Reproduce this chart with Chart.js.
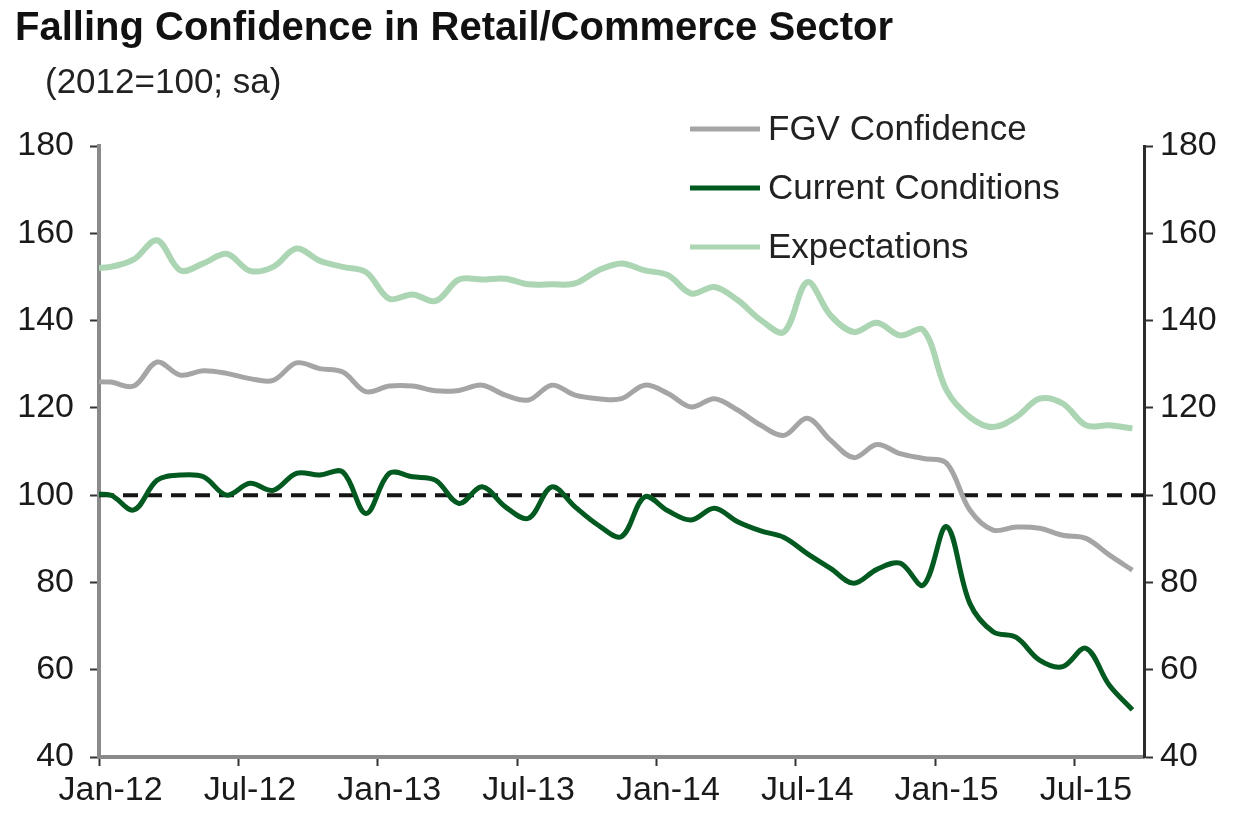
<!DOCTYPE html>
<html>
<head>
<meta charset="utf-8">
<title>Falling Confidence in Retail/Commerce Sector</title>
<script src="https://cdn.jsdelivr.net/npm/chart.js@4.4.1/dist/chart.umd.min.js"></script>
<style>
  html, body { margin: 0; padding: 0; background: #fff; }
  #wrap { position: relative; width: 1237px; height: 813px; overflow: hidden; }
  #chart { position: absolute; left: 0; top: 0; }
  .title { position: absolute; left: 15px; top: 4px; font: bold 40px "Liberation Sans", Arial, sans-serif; color: #111; white-space: nowrap; }
  .subtitle { position: absolute; left: 45px; top: 61px; font: 35px "Liberation Sans", Arial, sans-serif; color: #222; white-space: nowrap; }
</style>
</head>
<body>
<div id="wrap">
  <canvas id="chart" width="1237" height="813"></canvas>
  <div class="title">Falling Confidence in Retail/Commerce Sector</div>
  <div class="subtitle">(2012=100; sa)</div>
</div>
<script>
// --- Data (monthly, Dec-11 .. Sep-15; Dec-11 only feeds the line into the left axis) ---
const months = [
  'Dec-11',
  'Jan-12','Feb-12','Mar-12','Apr-12','May-12','Jun-12','Jul-12','Aug-12','Sep-12','Oct-12','Nov-12','Dec-12',
  'Jan-13','Feb-13','Mar-13','Apr-13','May-13','Jun-13','Jul-13','Aug-13','Sep-13','Oct-13','Nov-13','Dec-13',
  'Jan-14','Feb-14','Mar-14','Apr-14','May-14','Jun-14','Jul-14','Aug-14','Sep-14','Oct-14','Nov-14','Dec-14',
  'Jan-15','Feb-15','Mar-15','Apr-15','May-15','Jun-15','Jul-15','Aug-15','Sep-15'
];

const fgvConfidence = [
  126,
  125.9, 125.0, 130.5, 127.5, 128.5, 127.9, 126.7, 126.3, 130.3, 129.0, 128.2, 123.7,
  125.0, 125.0, 123.9, 124.0, 125.2, 122.9, 121.8, 125.2, 122.9, 122.1, 122.1, 125.2,
  123.3, 120.2, 122.1, 119.5, 116.0, 113.7, 117.6, 112.6, 108.6, 111.6, 109.5, 108.4,
  107.3, 96.6, 92.0, 92.7, 92.4, 90.8, 90.1, 86.3, 82.8
];

const currentConditions = [
  100,
  100.0, 96.6, 103.4, 104.6, 104.2, 100.0, 102.7, 101.1, 105.0, 104.6, 105.3, 95.8,
  105.0, 104.2, 103.4, 98.1, 101.9, 97.3, 94.7, 101.9, 97.3, 93.1, 90.5, 99.6,
  96.4, 94.3, 97.0, 93.9, 91.8, 90.3, 86.6, 83.2, 79.8, 83.0, 84.4, 79.4,
  92.8, 75.2, 68.7, 67.4, 62.2, 60.7, 64.9, 56.5, 50.8
];

const expectations = [
  152,
  152.3, 154.0, 158.4, 151.5, 153.1, 155.3, 151.4, 152.3, 156.5, 153.7, 152.3, 151.1,
  145.0, 146.0, 144.5, 149.4, 149.4, 149.6, 148.3, 148.3, 148.5, 151.5, 153.1, 151.5,
  150.4, 146.2, 147.7, 144.7, 140.1, 137.4, 148.8, 141.2, 137.4, 139.5, 136.6, 137.8,
  124.0, 117.9, 115.6, 117.9, 122.1, 121.0, 116.0, 116.0, 115.3
];

const tickLabels = ['Jan-12', 'Jul-12', 'Jan-13', 'Jul-13', 'Jan-14', 'Jul-14', 'Jan-15', 'Jul-15'];
const BASELINE = 100;
const Y_MIN = 40, Y_MAX = 180, Y_STEP = 20;

// --- Layout ---
const FONT = '"Liberation Sans", Arial, sans-serif';
const X_MIN = -0.5;                      // left edge of Jan-12 slot
const X_MAX = months.length - 1.5;       // right edge of Sep-15 slot
const AREA = { left: 99, right: 1144, top: 146, bottom: 757 };
const W = 1237, H = 813;

// Jan-12 sits at x = 0, Dec-11 at x = -1 (clipped by the chart area)
const toPoints = arr => arr.map((v, i) => ({ x: i - 1, y: v }));

const insideLegend = {
  id: 'insideLegend',
  afterDatasetsDraw(chart) {
    const ctx = chart.ctx;
    const items = chart.data.datasets.filter(d => d.inLegend);
    ctx.save();
    ctx.font = '35px ' + FONT;
    ctx.textBaseline = 'middle';
    items.forEach((ds, k) => {
      const y = 129 + k * 59;
      ctx.strokeStyle = ds.borderColor;
      ctx.lineWidth = 5;
      ctx.beginPath();
      ctx.moveTo(690, y);
      ctx.lineTo(760, y);
      ctx.stroke();
      ctx.fillStyle = '#222';
      ctx.fillText(ds.label, 768, y + 1);
    });
    ctx.restore();
  }
};

const lineDefaults = { pointRadius: 0, tension: 0.35, clip: 0, fill: false };

new Chart(document.getElementById('chart'), {
  type: 'line',
  data: {
    datasets: [
      { ...lineDefaults, label: 'FGV Confidence', inLegend: true, data: toPoints(fgvConfidence),
        borderColor: '#a5a5a5', borderWidth: 5, order: 2 },
      { ...lineDefaults, label: 'Current Conditions', inLegend: true, data: toPoints(currentConditions),
        borderColor: '#035a20', borderWidth: 5, order: 1 },
      { ...lineDefaults, label: 'Expectations', inLegend: true, data: toPoints(expectations),
        borderColor: '#abd5b3', borderWidth: 6, order: 3 },
      { ...lineDefaults, label: 'Base', data: [{ x: X_MIN, y: BASELINE }, { x: X_MAX, y: BASELINE }],
        borderColor: '#151515', borderWidth: 4, borderDash: [15, 9], tension: 0, order: 4 }
    ]
  },
  options: {
    responsive: false,
    animation: false,
    layout: { padding: { top: AREA.top, left: 0, right: 0, bottom: 0 } },
    plugins: { legend: { display: false }, tooltip: { enabled: false }, title: { display: false } },
    scales: {
      x: {
        type: 'linear',
        min: X_MIN,
        max: X_MAX,
        afterBuildTicks: scale => {
          scale.ticks = tickLabels.map((_, k) => ({ value: X_MIN + 6 * k }));
        },
        afterFit: scale => { scale.height = H - AREA.bottom; },
        ticks: {
          autoSkip: false,
          maxRotation: 0,
          padding: 4,
          labelOffset: 11.6,
          color: '#1a1a1a',
          font: { family: FONT, size: 34 },
          callback: (v, i) => tickLabels[i]
        },
        grid: { drawOnChartArea: false, tickLength: 9, tickColor: '#333', tickWidth: 2 },
        border: { display: true, color: '#8a8a8a', width: 4 }
      },
      y: {
        position: 'left',
        min: Y_MIN, max: Y_MAX,
        afterFit: scale => { scale.width = AREA.left; },
        ticks: { stepSize: Y_STEP, padding: 16, color: '#1a1a1a', font: { family: FONT, size: 34 } },
        grid: { drawOnChartArea: false, tickLength: 9, tickColor: '#333', tickWidth: 2 },
        border: { display: true, color: '#8a8a8a', width: 4 }
      },
      y2: {
        position: 'right',
        min: Y_MIN, max: Y_MAX,
        afterFit: scale => { scale.width = W - AREA.right; },
        ticks: { stepSize: Y_STEP, padding: 7, color: '#1a1a1a', font: { family: FONT, size: 34 } },
        grid: { drawOnChartArea: false, tickLength: 9, tickColor: '#333', tickWidth: 2 },
        border: { display: true, color: '#2b2b2b', width: 3 }
      }
    }
  },
  plugins: [insideLegend]
});
</script>
</body>
</html>
